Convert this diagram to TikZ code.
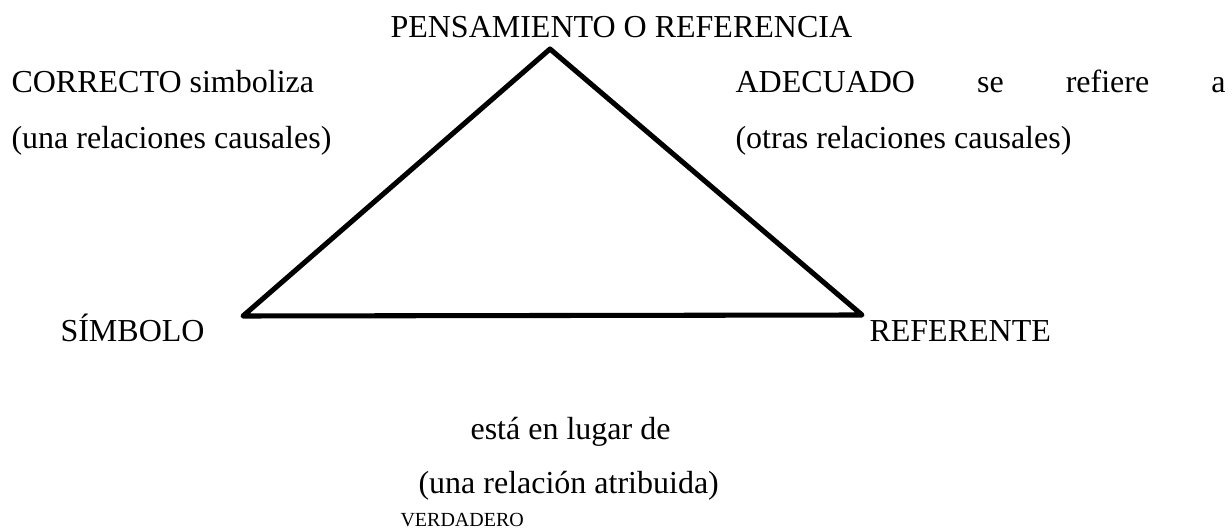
\documentclass[tikz,border=0pt]{standalone}
\usepackage{fontspec}
\setmainfont{Liberation Serif}
\tikzset{
	txt/.style={anchor=base west, inner sep=0pt, font=\fontsize{12}{14}\selectfont},
	txtsmall/.style={txt, font=\fontsize{7.5}{9}\selectfont}
}
\begin{document}
\begin{tikzpicture}[x=0.375pt, y=-0.375pt]
				\useasboundingbox (0,0) rectangle (1232,529);
				\coordinate (apex) at (550,49);
				\coordinate (izq) at (243,316);
				\coordinate (der) at (862,315);
				\draw[line width=1.9pt, line join=round] (izq) -- (apex) -- (der) -- cycle;
				\node[txt] (pens) at (390,38) {PENSAMIENTO O REFERENCIA};
				\node[txt] (correcto) at (11,93) {CORRECTO simboliza};
				\node[txt] (unarel) at (11,149) {(una relaciones causales)};
				\node[txt] (adecuado) at (735,93) {\makebox[183.75pt][s]{ADECUADO se refiere a}};
				\node[txt] (otrasrel) at (735,149) {(otras relaciones causales)};
				\node[txt] (simbolo) at (60,342) {SÍMBOLO};
				\node[txt] (referente) at (869,342) {REFERENTE};
				\node[txt] (estalugar) at (470,440) {está en lugar de};
				\node[txt] (atrib) at (418,493) {(una relación atribuida)};
				\node[txtsmall] (verdadero) at (400,526) {VERDADERO};
				\end{tikzpicture}
\end{document}
